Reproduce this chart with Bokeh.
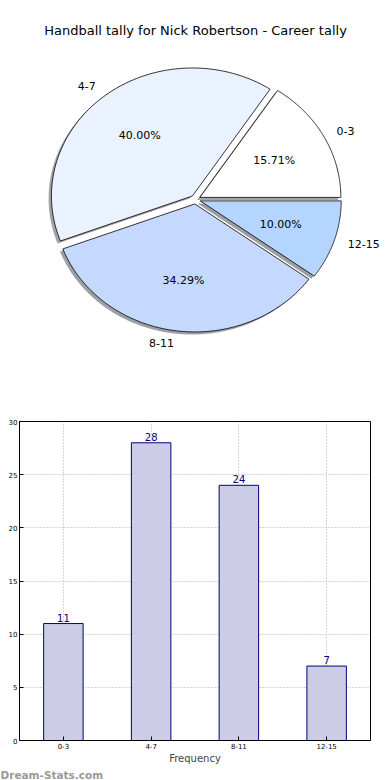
import numpy as np
from bokeh.plotting import figure
from bokeh.models import Range1d, FactorRange, Label, FixedTicker, Title
from bokeh.embed import file_html
from bokeh.resources import INLINE
from bokeh.core.properties import value

title_text = "Handball tally for Nick Robertson - Career tally"
categories = ["0-3", "4-7", "8-11", "12-15"]
counts = [11, 28, 24, 7]
slice_colors = ["#FFFFFF", "#EAF1FF", "#C5D9FF", "#B3D5FF"]
x_label = "Frequency"
y_ticks = [0, 5, 10, 15, 20, 25, 30]
watermark = "Dream-Stats.com"

FONT = "DejaVu Sans"
W = 390

# ---------------- pie ----------------
PH = 377
rx, ry = 141.0, 128.0
cx_px, cy_px = 195.0, 199.0
pie = figure(width=W, height=PH, output_backend="svg", toolbar_location=None,
             x_range=Range1d(-cx_px / rx, (W - cx_px) / rx),
             y_range=Range1d(-(PH - cy_px) / ry, cy_px / ry),
             x_axis_type=None, y_axis_type=None, min_border=0)
pie.grid.visible = False
pie.outline_line_color = None

total = float(sum(counts))
fracs = np.array(counts) / total
bounds = np.concatenate([[0.0], np.cumsum(fracs)]) * 2 * np.pi
explode = 0.035
shadow_dx, shadow_dy = -0.02, -0.02

xs, ys, sxs, sys_, scol = [], [], [], [], []
lab_l = dict(x=[], y=[], t=[])
lab_r = dict(x=[], y=[], t=[])
pct = dict(x=[], y=[], t=[])
for i in range(len(counts)):
    t1, t2 = bounds[i], bounds[i + 1]
    m = 0.5 * (t1 + t2)
    ex, ey = explode * np.cos(m), explode * np.sin(m)
    th = np.linspace(t1, t2, 120)
    px = np.concatenate([[ex], ex + np.cos(th)])
    py = np.concatenate([[ey], ey + np.sin(th)])
    xs.append(list(px)); ys.append(list(py))
    sxs.append(list(px + shadow_dx)); sys_.append(list(py + shadow_dy))
    r, g, b = (int(slice_colors[i][k:k + 2], 16) for k in (1, 3, 5))
    scol.append("#%02x%02x%02x" % (int(r * 0.3), int(g * 0.3), int(b * 0.3)))
    lx, ly = ex + 1.1 * np.cos(m), ey + 1.1 * np.sin(m)
    d = lab_l if np.cos(m) >= 0 else lab_r
    d["x"].append(lx); d["y"].append(ly); d["t"].append(categories[i])
    pct["x"].append(ex + 0.6 * np.cos(m)); pct["y"].append(ey + 0.6 * np.sin(m))
    pct["t"].append("%.2f%%" % (fracs[i] * 100))

pie.patches(xs=sxs, ys=sys_, fill_color=scol, fill_alpha=0.5, line_color=None)
pie.patches(xs=xs, ys=ys, fill_color=slice_colors, line_color="black", line_width=0.8)
pie.text(x=lab_l["x"], y=lab_l["y"], text=lab_l["t"], text_align="left", text_baseline="middle",
         text_font=value(FONT), text_font_size="11px", text_color="black")
pie.text(x=lab_r["x"], y=lab_r["y"], text=lab_r["t"], text_align="right", text_baseline="middle",
         text_font=value(FONT), text_font_size="11px", text_color="black")
pie.text(x=pct["x"], y=pct["y"], text=pct["t"], text_align="center", text_baseline="middle",
         text_font=value(FONT), text_font_size="11px", text_color="black")
pie.add_layout(Label(x=cx_px, y=PH - 30, x_units="screen", y_units="screen", text=title_text,
                     text_align="center", text_baseline="middle", text_font=FONT,
                     text_font_size="13px", text_color="black"))

# ---------------- bar ----------------
BH = 403
BL, BR = 19, 20
bar = figure(width=W, height=BH, output_backend="svg", toolbar_location=None,
             x_range=FactorRange(*categories), y_range=Range1d(0, 30),
             min_border_top=44, min_border_left=BL, min_border_right=BR, min_border_bottom=0)
bar.vbar(x=categories, top=counts, width=0.45, fill_color="#CCCCE6", line_color="#000080", line_width=1)
bar.text(x=categories, y=counts, text=[str(c) for c in counts], text_align="center",
         text_baseline="bottom", y_offset=-2, text_color="#000080",
         text_font=value(FONT), text_font_size="10px")

bar.yaxis.ticker = FixedTicker(ticks=y_ticks)
for ax in (bar.xaxis[0], bar.yaxis[0]):
    ax.major_label_text_font = FONT
    ax.major_label_text_font_size = "7px"
    ax.major_label_text_color = "black"
    ax.major_tick_in = 4
    ax.major_tick_out = 0
    ax.minor_tick_line_color = None
    ax.axis_line_color = "black"
    ax.major_label_standoff = 2
bar.xaxis.axis_label = x_label
bar.xaxis.axis_label_text_font = FONT
bar.xaxis.axis_label_text_font_size = "10px"
bar.xaxis.axis_label_text_font_style = "normal"
bar.xaxis.axis_label_standoff = 1

bar.grid.grid_line_color = "#aaaaaa"
bar.grid.grid_line_dash = "1 2"
bar.outline_line_color = "black"
bar.outline_line_alpha = 1.0

bar.add_layout(Title(text=watermark, align="left", text_color="#999999", text_font=FONT,
                     text_font_size="10.5px", text_font_style="bold", offset=-BL, standoff=0), "below")

open("out.html", "w").write(file_html([pie, bar], INLINE))
